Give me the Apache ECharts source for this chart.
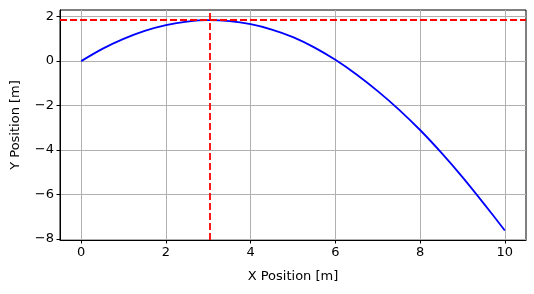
<!DOCTYPE html>
<html>
<head>
<meta charset="utf-8">
<script src="https://cdn.jsdelivr.net/npm/echarts@6/dist/echarts.min.js"></script>
<style>html,body{margin:0;padding:0;background:#fff}#c{width:534px;height:294px}</style>
</head>
<body>
<div id="c"></div>
<script>
// Values
var xValues = [0, 0.5, 1, 1.5, 2, 2.5, 3, 3.5, 4, 4.5, 5, 5.5, 6, 6.5, 7, 7.5, 8, 8.5, 9, 9.5, 10];
var yValues = [0, 0.55, 1.0, 1.36, 1.62, 1.78, 1.84, 1.80, 1.66, 1.42, 1.08, 0.62, 0.06, -0.60, -1.35, -2.18, -3.10, -4.12, -5.22, -6.40, -7.62];
var peakX = 3.03;
var peakY = 1.84;
var xTicks = [0, 2, 4, 6, 8, 10];
var yTicks = [-8, -6, -4, -2, 0, 2];
var xName = 'X Position [m]';
var yName = 'Y Position [m]';

var pts = xValues.map(function (x, i) { return [x, yValues[i]]; });
var fmt = function (v) { return String(v).replace('-', '\u2212'); };
var font = 'DejaVu Sans';

var chart = echarts.init(document.getElementById('c'), null, {renderer: 'canvas'});
chart.setOption({
  animation: false,
  grid: {left: 60, right: 8, top: 10, bottom: 54, show: true, borderColor: '#000', borderWidth: 1, backgroundColor: 'transparent'},
  xAxis: {
    type: 'value', min: -0.5, max: 10.5,
    name: xName, nameLocation: 'middle', nameGap: 30,
    nameTextStyle: {fontFamily: font, fontSize: 13, color: '#000'},
    axisLine: {show: true, onZero: false, lineStyle: {color: '#000', width: 1}},
    axisTick: {show: true, length: 3.5, customValues: xTicks, lineStyle: {color: '#000', width: 1}},
    axisLabel: {show: true, customValues: xTicks, margin: 6, fontFamily: font, fontSize: 13, color: '#000', formatter: fmt},
    splitLine: {show: true, lineStyle: {color: '#b0b0b0', width: 1}}
  },
  yAxis: {
    type: 'value', min: -8.05, max: 2.3,
    name: yName, nameLocation: 'middle', nameGap: 38,
    nameTextStyle: {fontFamily: font, fontSize: 13, color: '#000'},
    axisLine: {show: true, onZero: false, lineStyle: {color: '#000', width: 1}},
    axisTick: {show: true, length: 3.5, customValues: yTicks, lineStyle: {color: '#000', width: 1}},
    axisLabel: {show: true, customValues: yTicks, margin: 6, fontFamily: font, fontSize: 13, color: '#000', formatter: fmt},
    splitLine: {show: true, lineStyle: {color: '#b0b0b0', width: 1}}
  },
  series: [{
    type: 'line', data: pts, smooth: 0.3, showSymbol: false,
    lineStyle: {color: '#0000ff', width: 1.8},
    markLine: {
      silent: true, symbol: ['none', 'none'], label: {show: false},
      lineStyle: {color: '#ff0000', width: 1.8, type: [7, 3]},
      data: [{xAxis: peakX}, {yAxis: peakY}]
    }
  }]
});
</script>
</body>
</html>
